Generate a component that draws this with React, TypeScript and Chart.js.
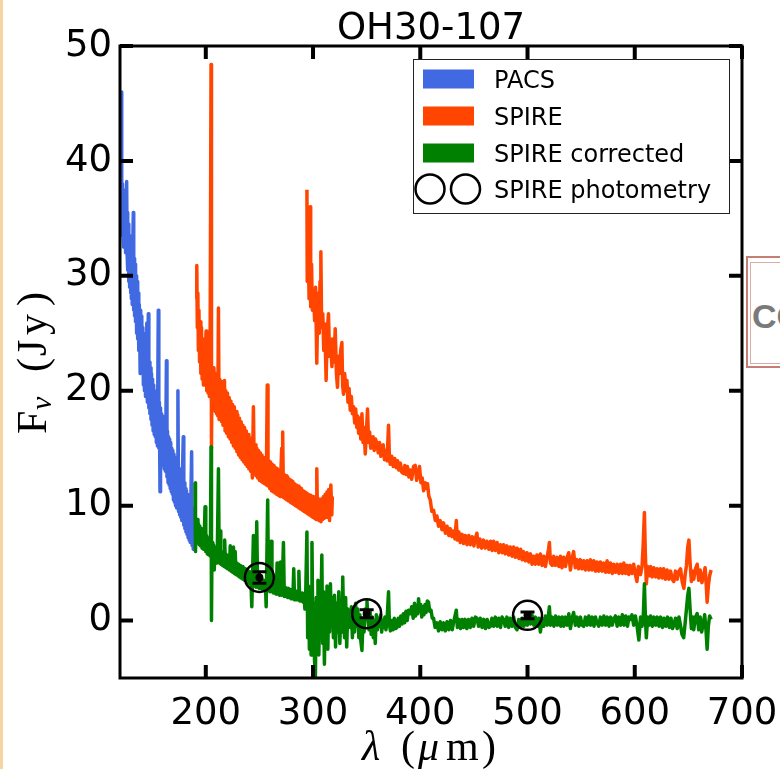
import React, { useEffect, useRef } from "react";
import { Chart, registerables } from "chart.js";

Chart.register(...registerables);

const TITLE = "OH30-107";
const X_MIN = 120;
const X_MAX = 700;
const Y_MIN = -5;
const Y_MAX = 50;
const X_TICKS = [200, 300, 400, 500, 600, 700];
const Y_TICKS = [0, 10, 20, 30, 40, 50];
const LEGEND_LABELS = ["PACS", "SPIRE", "SPIRE corrected", "SPIRE photometry"];
const C_PACS = "#4169E1";
const C_SPIRE = "#FF4500";
const C_CORR = "#008000";

// PACS spectrum [wavelength, flux]
const PACS: [number, number][] = [
  [121.2, 46], [121.6, 38], [122.0, 33.5], [122.4, 38], [122.8, 34], [123.2, 37.5], [123.6, 32.5], [124.0, 36.5],
  [124.4, 33], [124.8, 37], [125.2, 32], [125.6, 35.5], [126.2, 38.2], [126.6, 32], [127.0, 35.5], [127.4, 30.5],
  [127.8, 34.5], [128.2, 29.5], [128.6, 33.5], [129.0, 29], [129.4, 33], [129.8, 28.5], [130.2, 33], [130.6, 28],
  [131.0, 32], [131.4, 27.5], [131.8, 32], [132.4, 35.5], [132.8, 27], [133.2, 31.5], [133.6, 26.5], [134.0, 31],
  [134.5, 26], [135.0, 30], [135.5, 25], [136.0, 29.5], [136.5, 24.5], [137.0, 28.5], [137.5, 23.5], [138.0, 27.5],
  [138.8, 21.5], [139.3, 27], [139.8, 22.5], [140.3, 26.5], [140.8, 21.5], [141.3, 25.5], [141.8, 20.5], [142.3, 25],
  [142.8, 20], [143.3, 24], [143.8, 19.5], [144.3, 23.5], [145.0, 25.9], [145.5, 19], [146.0, 23], [146.4, 26.7],
  [146.9, 18.5], [147.4, 22.5], [147.9, 18], [148.4, 22], [148.9, 17.5], [149.4, 21.5], [149.9, 17], [150.4, 21],
  [150.9, 16.5], [151.4, 20.5], [151.9, 16.2], [152.4, 20], [152.9, 16], [153.4, 19.5], [153.9, 15.5], [154.4, 19.5],
  [154.9, 15.2], [155.7, 27], [156.2, 15], [156.7, 19], [157.3, 11.2], [157.8, 18.5], [158.3, 14.5], [158.8, 18],
  [159.3, 14], [159.8, 17.8], [160.3, 13.5], [160.8, 17.5], [161.3, 13.2], [161.8, 17], [162.3, 13], [162.8, 17],
  [163.3, 22.6], [163.8, 12.5], [164.3, 16.5], [164.8, 12], [165.3, 16], [165.8, 11.8], [166.3, 15.8], [166.8, 11.5],
  [167.3, 15.5], [167.8, 11.2], [168.3, 15], [168.8, 11], [169.3, 14.8], [169.8, 10.5], [170.3, 14.5], [170.8, 10.3],
  [171.3, 14.2], [171.8, 10], [172.3, 14], [172.8, 9.8], [173.3, 13.5], [174.0, 20], [174.6, 9.5], [175.1, 13.2],
  [175.6, 9.2], [176.1, 13], [176.6, 9], [177.1, 12.5], [177.6, 8.7], [178.1, 12.2], [179.0, 16], [179.5, 8.3],
  [180.0, 12], [180.5, 8], [181.0, 11.5], [181.5, 7.7], [182.0, 11.3], [182.5, 7.5], [183.0, 11], [183.5, 7.2],
  [184.0, 10.8], [184.5, 7], [185.0, 10.5], [185.5, 6.8], [186.0, 10.2], [186.8, 14.7], [187.3, 6.5], [187.8, 9.8],
  [188.3, 6.2], [188.8, 8.5],
];

// SPIRE short-wavelength band
const SPIRE_SSW: [number, number][] = [
  [191.0, 28], [191.6, 30.9], [192.1, 25.5], [192.6, 28.5], [193.1, 23.5], [193.6, 27], [194.2, 22.5], [194.8, 26],
  [195.4, 21.5], [196.0, 25.5], [196.6, 21], [197.2, 24.5], [197.8, 20.5], [198.4, 24], [199.0, 20.5], [199.6, 23.5],
  [200.3, 25.2], [200.9, 20], [201.5, 23.5], [202.1, 19.8], [202.7, 23], [203.3, 19.5], [204.0, 22.5], [204.9, 48.4],
  [205.3, 15], [205.8, 22], [206.4, 18.5], [207.0, 22], [207.6, 18.5], [208.2, 21.5], [208.8, 18.2], [209.4, 21.5],
  [210.0, 18], [210.6, 21.3], [211.2, 17.8], [211.8, 27.2], [212.4, 17.5], [213.0, 21], [213.6, 17.5], [214.2, 20.8],
  [214.8, 17.3], [215.4, 20.5], [216.0, 17], [216.8, 20.3], [217.4, 20.9], [218.0, 16.5], [218.6, 20], [219.4, 16.3],
  [220.2, 19.8], [221.0, 16], [221.8, 19.4], [222.6, 15.8], [223.4, 19.1], [224.2, 15.5], [225.0, 18.8], [225.8, 15.2],
  [226.6, 18.6], [227.4, 15], [228.2, 18.2], [229.0, 14.7], [229.8, 17.9], [230.6, 14.4], [231.4, 17.6], [232.2, 14.2],
  [233.0, 17.3], [233.8, 14], [234.6, 17], [235.4, 13.8], [236.2, 16.8], [237.0, 13.6], [237.8, 16.5], [238.6, 13.4],
  [239.4, 16.2], [240.2, 13.2], [241.0, 15.9], [241.8, 13], [242.6, 15.7], [243.4, 12.4], [244.4, 18.6], [245.2, 12.8],
  [246.0, 15.3], [246.8, 12.6], [247.6, 15], [248.4, 12.4], [249.2, 14.8], [250.0, 12.2], [250.8, 14.6], [251.6, 12.1],
  [252.4, 14.4], [253.2, 12], [254.0, 14.2], [254.8, 11.9], [255.6, 14], [256.4, 11.8], [257.3, 20.5], [258.0, 11.7],
  [258.8, 13.9], [259.6, 11.5], [260.4, 13.8], [261.2, 11.3], [262.0, 13.6], [262.8, 11.2], [263.6, 13.5], [264.4, 11.1],
  [265.2, 13.3], [266.0, 11], [266.8, 13.2], [267.6, 10.9], [268.4, 13], [269.2, 10.8], [270.0, 12.9], [270.8, 15],
  [271.2, 11], [271.7, 16.4], [272.4, 10.7], [273.2, 12.7], [274.0, 10.6], [274.8, 12.6], [275.6, 10.5], [276.4, 12.5],
  [277.2, 10.4], [278.0, 12.3], [278.8, 10.3], [279.6, 12.2], [280.4, 10.2], [281.2, 12.1], [282.0, 10.1], [282.8, 11.9],
  [283.6, 10], [284.4, 11.8], [285.2, 9.9], [286.0, 11.7], [286.8, 9.8], [287.6, 11.6], [288.4, 9.7], [289.2, 11.5],
  [290.0, 9.6], [290.8, 11.3], [291.6, 9.5], [292.4, 11.2], [293.2, 9.4], [294.0, 11.1], [294.8, 9.3], [295.6, 11],
  [296.4, 9.2], [297.2, 10.9], [298.0, 9.1], [298.8, 10.8], [299.6, 9], [300.4, 10.8], [301.2, 8.9], [302.0, 10.7],
  [302.8, 8.8], [303.5, 13.2], [304.2, 8.8], [305.0, 10.6], [305.8, 8.7], [306.6, 10.5], [307.4, 8.6], [308.2, 10.6],
  [309.0, 8.8], [309.8, 10.8], [310.6, 8.9], [311.4, 11], [312.2, 9], [313.0, 11.2], [313.8, 9.1], [314.6, 11.4],
  [315.4, 8.7], [316.6, 11.8], [317.5, 9.2], [318.0, 10.8],
];

// SPIRE long-wavelength band
const SPIRE_SLW: [number, number][] = [
  [294.3, 37.5], [294.6, 29.5], [295.5, 33], [296.3, 28], [297.3, 36], [297.8, 27.3], [298.6, 31], [299.4, 27],
  [300.4, 28.7], [301.5, 26.1], [302.4, 29], [303.5, 22.4], [304.3, 27], [305.0, 28.5], [305.8, 25], [306.5, 29.5],
  [307.3, 32.1], [308.0, 25.5], [309.1, 26.7], [310.0, 23.5], [311.0, 25.8], [312.2, 20.9], [313.2, 25], [314.4, 26.7],
  [315.4, 23], [316.4, 24.5], [317.6, 22.1], [318.6, 24.5], [319.6, 22.5], [320.7, 25.4], [321.8, 21.5], [322.8, 20.3],
  [323.8, 23], [324.8, 21.5], [325.8, 23.5], [326.9, 24.2], [327.6, 20.5], [328.4, 19.7], [329.5, 21.5], [330.5, 20],
  [331.6, 20.9], [332.6, 19], [333.6, 20.2], [334.7, 18.3], [335.7, 19.5], [336.7, 18], [337.8, 18.6], [338.8, 17.2],
  [339.8, 18.4], [340.8, 16.8], [341.6, 17.8], [342.5, 16.3], [343.5, 17.6], [344.5, 15.8], [345.6, 18], [346.6, 15.5],
  [347.6, 16.8], [348.7, 14.5], [349.8, 16.5], [350.8, 18.4], [351.8, 15.5], [352.8, 16.4], [353.8, 15], [354.9, 15.1],
  [356.0, 16], [357.0, 14.8], [358.2, 15.8], [359.6, 15.4], [360.8, 14.6], [362.0, 15.5], [363.2, 14.3], [364.2, 14.5],
  [365.4, 15.3], [366.6, 14], [367.8, 14.8], [369.0, 13.9], [370.4, 17], [371.2, 14.2], [372.0, 13.6], [373.4, 14.3],
  [374.8, 13.4], [376.2, 14.1], [377.6, 13.3], [378.8, 13.9], [380.0, 13.1], [381.4, 13.7], [382.8, 12.9], [384.4, 12.8],
  [385.6, 13.5], [386.8, 12.7], [388.0, 13.4], [389.4, 12.5], [390.7, 13.1], [392.0, 12.3], [393.7, 13.4], [395.3, 13.5],
  [396.6, 12.2], [398.0, 12.8], [399.3, 13.4], [400.6, 12], [401.8, 12.4], [403.1, 11.3], [404.6, 12], [405.8, 11.5],
  [406.8, 11.9], [408.0, 10.8], [409.3, 10.5], [410.8, 9.5], [412.4, 9.6], [414.0, 8.7], [415.5, 9.1], [417.0, 8.2],
  [418.6, 8.7], [420.2, 7.9], [421.7, 8.5], [423.4, 7.6], [425.0, 8.2], [426.6, 7.4], [428.0, 8.0], [429.6, 7.3],
  [431.0, 7.8], [432.3, 7.1], [433.6, 8.7], [434.6, 7.0], [436.0, 7.7], [437.3, 6.8], [439.0, 7.5], [440.3, 6.7],
  [442.0, 7.4], [443.6, 6.6], [445.2, 7.4], [446.7, 6.6], [448.4, 7.3], [450.0, 6.5], [451.5, 7.2], [452.8, 7.6],
  [454.0, 6.4], [455.6, 7.1], [457.2, 6.3], [459.0, 7.0], [460.6, 6.3], [462.2, 6.9], [464.0, 6.2], [465.6, 6.9],
  [467.0, 6.1], [468.4, 6.9], [470.0, 6.1], [471.6, 6.8], [473.2, 5.9], [474.8, 6.6], [476.3, 5.9], [477.7, 6.6],
  [479.2, 5.8], [480.8, 6.5], [482.4, 5.7], [484.0, 6.4], [485.6, 5.6], [487.1, 6.4], [488.7, 5.5], [490.3, 6.3],
  [492.0, 5.4], [493.6, 6.2], [495.0, 5.3], [496.3, 6.0], [498.0, 5.2], [499.6, 5.9], [501.2, 5.1], [502.8, 5.8],
  [504.2, 4.9], [505.7, 5.6], [507.2, 4.9], [508.8, 5.7], [510.4, 4.9], [512.0, 5.8], [513.6, 4.8], [515.2, 5.6],
  [516.7, 4.7], [518.4, 5.6], [519.6, 6.2], [520.4, 6.8], [521.4, 5.0], [523.0, 4.8], [524.4, 5.6], [526.0, 4.8],
  [527.6, 5.5], [529.2, 4.7], [530.7, 5.6], [532.2, 4.6], [533.8, 5.5], [535.4, 4.7], [537.0, 5.5], [538.4, 5.9],
  [540.0, 4.4], [541.5, 5.4], [543.0, 6.0], [544.5, 4.6], [546.0, 5.3], [547.6, 4.5], [549.2, 5.3], [550.8, 4.5],
  [552.4, 5.2], [554.0, 4.4], [555.6, 5.2], [557.2, 4.4], [558.6, 5.3], [560.2, 4.4], [561.8, 5.2], [563.4, 4.3],
  [564.8, 5.1], [566.4, 4.3], [568.0, 5.1], [569.6, 4.3], [571.2, 5.0], [572.8, 4.2], [574.2, 5.2], [575.8, 4.2],
  [577.4, 5.0], [579.0, 4.1], [580.3, 4.9], [582.0, 4.2], [583.6, 4.9], [585.2, 4.1], [586.8, 4.9], [588.4, 4.1],
  [589.8, 5.0], [591.4, 4.1], [593.0, 4.8], [594.4, 4.0], [595.8, 4.8], [597.4, 4.1], [599.0, 4.9], [600.6, 4.0],
  [602.0, 3.4], [603.4, 4.7], [605.3, 4.0], [606.8, 4.7], [607.8, 6.5], [609.0, 9.4], [609.8, 6.0], [610.8, 3.2],
  [612.0, 4.7], [613.4, 3.9], [614.7, 4.7], [616.2, 3.8], [617.8, 4.6], [619.4, 3.8], [620.9, 4.5], [622.4, 3.7],
  [624.0, 4.5], [625.6, 3.7], [627.0, 4.5], [628.6, 3.6], [630.2, 4.4], [631.8, 3.6], [633.4, 4.3], [635.0, 3.6],
  [636.4, 3.4], [638.0, 4.3], [639.6, 3.6], [641.2, 4.3], [642.7, 4.5], [644.2, 3.4], [645.8, 2.8], [647.0, 4.0],
  [648.2, 4.8], [649.4, 6.4], [650.5, 7.0], [651.6, 5.0], [652.8, 3.4], [654.0, 4.3], [655.0, 3.6], [656.6, 4.5],
  [658.2, 4.9], [659.6, 3.5], [661.0, 4.4], [662.6, 3.3], [664.4, 4.0], [665.6, 4.6], [666.6, 3.2], [667.5, 1.6],
  [668.6, 3.0], [669.8, 3.9], [671.2, 4.4],
];

// SPIRE corrected spectrum
const SPIRE_CORR: [number, number][] = [
  [190.0, 12.0], [190.4, 6.0], [190.9, 8.5], [191.5, 7.2], [192.1, 8.8], [192.7, 6.8], [193.3, 8.4], [193.9, 6.6],
  [194.5, 8.2], [195.1, 6.5], [195.8, 8.0], [196.5, 6.3], [197.2, 7.8], [197.9, 6.2], [198.6, 7.6], [199.3, 9.9],
  [200.0, 6.0], [200.7, 7.4], [201.4, 5.8], [202.1, 7.2], [202.8, 5.7], [203.5, 7.0], [204.2, 5.6], [204.9, 15.1],
  [205.3, 0.0], [205.8, 6.8], [206.5, 5.4], [207.2, 6.6], [207.9, 4.4], [208.6, 6.4], [209.3, 5.2], [210.0, 6.3],
  [210.6, 5.0], [211.8, 13.2], [212.5, 5.0], [213.3, 7.8], [214.0, 4.9], [214.8, 6.0], [215.6, 4.8], [216.4, 5.9],
  [217.2, 4.7], [217.6, 7.0], [218.0, 5.8], [218.8, 4.6], [219.6, 5.7], [220.4, 4.5], [221.2, 5.6], [222.0, 4.4],
  [222.8, 6.5], [223.6, 4.3], [224.4, 5.4], [225.2, 4.2], [225.8, 6.4], [226.6, 4.1], [227.4, 6.0], [228.2, 4.0],
  [229.0, 5.0], [229.8, 3.9], [230.6, 4.9], [231.4, 3.8], [232.2, 4.8], [233.0, 3.7], [233.8, 4.7], [234.6, 3.6],
  [235.4, 4.6], [236.2, 3.5], [237.0, 4.5], [237.8, 3.4], [238.6, 4.4], [239.4, 3.3], [240.2, 4.3], [241.0, 3.2],
  [241.8, 4.2], [242.9, 1.2], [243.6, 4.0], [244.4, 7.4], [245.2, 3.0], [246.0, 4.0], [246.8, 2.9], [247.5, 8.6],
  [248.3, 2.9], [249.1, 3.8], [249.9, 2.8], [250.7, 3.7], [251.5, 2.8], [252.3, 3.6], [253.1, 2.7], [253.9, 3.5],
  [254.7, 2.7], [255.5, 3.4], [256.3, 1.2], [257.7, 10.5], [258.5, 2.6], [259.3, 3.4], [260.1, 2.5], [260.9, 6.9],
  [261.7, 2.5], [262.5, 3.2], [263.3, 2.4], [264.1, 3.2], [264.9, 2.4], [265.7, 2.3], [266.5, 5.0], [267.3, 2.3],
  [268.1, 3.0], [268.9, 2.2], [269.7, 5.1], [270.5, 2.2], [271.3, 2.9], [272.4, 6.8], [273.2, 2.1], [274.0, 2.9],
  [274.8, 2.1], [275.6, 2.8], [276.4, 2.0], [277.2, 2.8], [278.0, 2.0], [278.8, 2.7], [279.6, 1.9], [280.4, 2.7],
  [281.2, 1.9], [282.0, 4.5], [282.8, 1.8], [283.6, 2.6], [284.4, 1.8], [285.2, 2.5], [286.0, 1.8], [286.8, 4.3],
  [287.6, 1.7], [288.4, 2.4], [289.2, 1.7], [290.0, 2.4], [290.8, 1.6], [291.6, 2.3], [292.4, 1.0], [293.2, 2.5],
  [294.3, 7.7], [295.0, -1.5], [295.8, 3.0], [296.6, -2.5], [297.4, 2.0], [298.2, -3.0], [299.0, 6.8], [299.8, -1.0],
  [300.6, 1.5], [301.4, -3.5], [302.2, -4.9], [303.0, 2.0], [303.8, -2.0], [304.6, 3.5], [305.4, -3.0], [306.2, 1.0],
  [307.0, -1.0], [308.2, 5.7], [309.0, -2.0], [309.8, 2.5], [310.6, -3.8], [311.4, 1.0], [312.2, -1.5], [313.0, 3.0],
  [313.8, -2.5], [314.6, 2.0], [315.4, -1.0], [316.2, 3.2], [317.0, 0.0], [318.0, 2.0], [319.0, -1.5], [320.0, 2.2],
  [321.0, -2.3], [322.0, 1.5], [323.0, -1.0], [324.0, 2.5], [325.0, -2.0], [326.0, 1.0], [327.0, -1.0], [327.7, 3.8],
  [328.4, 0.5], [329.4, -1.5], [330.4, 2.0], [331.4, -2.3], [332.4, 1.0], [333.4, 0.0], [334.7, -0.6], [335.7, 1.2],
  [336.7, -1.5], [337.7, 0.8], [338.7, -1.0], [339.7, 1.5], [340.7, -0.5], [341.7, 1.0], [342.7, -1.5], [343.7, 0.5],
  [344.6, -1.8], [345.6, -2.6], [346.6, 0.0], [347.6, -1.0], [348.6, 1.0], [349.5, 0.5], [350.3, 1.7], [351.2, 0.2],
  [352.2, -0.8], [353.2, 0.8], [354.2, -1.2], [355.2, 0.3], [356.2, -1.5], [357.2, 0.0], [358.0, -2.0], [359.0, 0.5],
  [360.0, -0.8], [361.0, 0.2], [362.0, -0.5], [363.0, 0.5], [364.0, -1.0], [365.0, 0.0], [366.0, -0.6], [367.0, 0.3],
  [368.0, -0.8], [369.0, 0.0], [370.4, 2.5], [371.2, -0.3], [372.2, -0.9], [373.4, 0.0], [374.6, -0.8], [375.8, 0.2],
  [377.0, -0.7], [378.2, -0.6], [379.4, 0.2], [380.6, -0.5], [381.8, 0.4], [383.0, -0.3], [384.2, 0.6], [385.4, -0.2],
  [386.6, 0.8], [387.8, 0.0], [389.0, 0.9], [390.7, 0.6], [392.0, 1.2], [393.4, 0.2], [394.6, 1.5], [395.6, 0.4],
  [396.6, 1.3], [397.6, 0.6], [398.4, 1.9], [399.4, 0.8], [400.4, 1.4], [401.4, 0.3], [402.4, 1.2], [403.4, 0.5],
  [404.4, 1.4], [405.4, 0.7], [406.6, 1.7], [407.7, 1.6], [408.8, 0.8], [410.0, 0.9], [411.2, 0.2], [412.4, 0.2],
  [413.8, -0.6], [415.5, -0.2], [417.0, -0.9], [418.6, -0.1], [420.2, -0.8], [421.8, -0.2], [423.3, -0.9], [425.0, -0.1],
  [426.6, -0.8], [428.2, 0.0], [429.8, -0.8], [431.4, 0.0], [432.6, 0.5], [433.6, 0.9], [434.6, -0.6], [436.0, 0.1],
  [437.6, -0.7], [439.0, 0.1], [440.3, -0.6], [441.8, 0.1], [443.4, -0.7], [445.0, 0.1], [446.6, -0.6], [448.2, 0.2],
  [449.8, -0.5], [451.4, 0.3], [452.8, 0.2], [454.4, -0.5], [456.0, 0.2], [457.6, -0.6], [459.2, 0.1], [460.8, -0.7],
  [462.4, 0.1], [464.0, -0.6], [465.3, -0.5], [466.8, 0.2], [468.4, -0.5], [470.0, 0.3], [471.6, -0.5], [473.2, 0.2],
  [474.8, -0.6], [476.3, 0.3], [477.7, 0.1], [479.2, -0.5], [480.8, 0.3], [482.4, -0.6], [484.0, 0.2], [485.6, -0.5],
  [487.1, 0.3], [488.7, -0.6], [490.2, -0.8], [491.8, 0.1], [493.4, -0.6], [495.0, 0.2], [496.6, -0.5], [498.2, 0.3],
  [499.8, -0.4], [501.2, 0.4], [502.7, -0.3], [504.2, 0.5], [505.8, -0.4], [507.4, 0.3], [509.0, -0.5], [510.6, 0.2],
  [512.0, -1.0], [513.6, 0.2], [515.2, -0.5], [516.8, 0.4], [518.4, -0.4], [519.6, 0.5], [520.4, 1.2], [521.4, -0.4],
  [523.0, 0.3], [524.6, -0.5], [526.2, 0.4], [527.8, -0.4], [529.4, 0.3], [531.0, -0.5], [532.4, 0.3], [533.8, -0.5],
  [535.4, 0.3], [537.0, -0.4], [538.5, 0.6], [540.0, -0.7], [541.6, 0.2], [543.0, 0.7], [544.6, -0.4], [546.2, 0.3],
  [547.8, -0.5], [549.4, 0.3], [550.8, -0.4], [552.4, -0.5], [554.0, 0.3], [555.6, -0.4], [557.2, 0.4], [558.8, -0.4],
  [560.4, 0.3], [562.0, -0.5], [563.4, 0.3], [564.8, -0.2], [566.4, -0.5], [568.0, 0.3], [569.6, -0.4], [571.2, 0.4],
  [572.8, -0.4], [574.4, 0.3], [576.0, -0.5], [577.6, 0.3], [579.0, -0.4], [580.3, 0.1], [582.0, 0.4], [583.6, -0.5],
  [585.2, 0.3], [586.8, -0.4], [588.4, 0.5], [590.0, -0.4], [591.6, 0.4], [593.2, -0.5], [594.6, 0.3], [595.8, 0.1],
  [597.4, 0.5], [599.0, -0.4], [600.6, 0.4], [602.2, -0.5], [603.8, -1.7], [605.4, 0.3], [606.8, -0.5], [608.0, 0.5],
  [609.0, 3.2], [610.0, 0.0], [610.8, -1.5], [612.0, 0.3], [613.4, -0.4], [614.8, 0.4], [616.4, -0.5], [618.0, 0.3],
  [619.6, -0.4], [621.0, 0.3], [622.6, -0.5], [624.2, 0.3], [625.8, -0.6], [627.4, 0.2], [629.0, -0.5], [630.6, 0.3],
  [632.2, -0.6], [633.8, 0.2], [635.2, -0.7], [636.4, -0.4], [638.0, 0.2], [639.6, -0.7], [641.2, 0.3], [642.6, -0.4],
  [644.0, -1.2], [645.6, -1.5], [647.0, -0.2], [648.2, 1.0], [649.4, 2.2], [650.5, 2.8], [651.6, 1.0], [652.8, -0.7],
  [654.0, 0.3], [655.0, -0.8], [656.6, 0.3], [658.2, 0.6], [659.6, -0.8], [661.0, 0.3], [662.4, -1.0], [663.8, -0.3],
  [665.2, 0.5], [666.4, -0.8], [667.5, -2.5], [668.6, -0.5], [669.8, 0.4], [671.2, 0.1],
];

// SPIRE photometry
const PHOT_X = [250, 350, 500];
const PHOT_Y = [3.75, 0.6, 0.45];
const PHOT_ERR = [0.5, 0.35, 0.3];

const toXY = (a: [number, number][]) => a.map(([x, y]) => ({ x, y }));

const TICK_FONT = '37px "DejaVu Sans"';
const SERIF = '"Liberation Serif"';

const decorPlugin = {
  id: "decor",
  afterDatasetsDraw(chart: any) {
    const { ctx, chartArea: ca, scales } = chart;
    const xs = scales.x;
    const ys = scales.y;
    ctx.save();
    // photometry error bars
    ctx.strokeStyle = "#000";
    ctx.lineWidth = 3;
    PHOT_X.forEach((x, i) => {
      const px = xs.getPixelForValue(x);
      const pTop = ys.getPixelForValue(PHOT_Y[i] + PHOT_ERR[i]);
      const pBot = ys.getPixelForValue(PHOT_Y[i] - PHOT_ERR[i]);
      ctx.beginPath();
      ctx.moveTo(px, pTop);
      ctx.lineTo(px, pBot);
      ctx.moveTo(px - 7, pTop);
      ctx.lineTo(px + 7, pTop);
      ctx.moveTo(px - 7, pBot);
      ctx.lineTo(px + 7, pBot);
      ctx.stroke();
    });
    // frame
    ctx.lineWidth = 3;
    ctx.strokeRect(ca.left, ca.top, ca.right - ca.left, ca.bottom - ca.top);
    // inward ticks
    ctx.lineWidth = 4;
    const TL = 13;
    ctx.beginPath();
    X_TICKS.forEach((v) => {
      const px = xs.getPixelForValue(v);
      ctx.moveTo(px, ca.bottom);
      ctx.lineTo(px, ca.bottom - TL);
      ctx.moveTo(px, ca.top);
      ctx.lineTo(px, ca.top + TL);
    });
    Y_TICKS.forEach((v) => {
      const py = ys.getPixelForValue(v);
      ctx.moveTo(ca.left, py);
      ctx.lineTo(ca.left + TL, py);
      ctx.moveTo(ca.right, py);
      ctx.lineTo(ca.right - TL, py);
    });
    ctx.stroke();

    // legend
    const lw = 316;
    const lh = 154;
    const lx = ca.right - 13 - lw;
    const ly = ca.top + 13;
    ctx.fillStyle = "#fff";
    ctx.fillRect(lx, ly, lw, lh);
    ctx.lineWidth = 1;
    ctx.strokeStyle = "#222";
    ctx.strokeRect(lx + 0.5, ly + 0.5, lw, lh);
    const rowY = [ly + 20, ly + 57, ly + 94, ly + 130];
    const colors = [C_PACS, C_SPIRE, C_CORR];
    colors.forEach((c, i) => {
      ctx.fillStyle = c;
      ctx.fillRect(lx + 10, rowY[i] - 9.5, 51, 19);
    });
    ctx.strokeStyle = "#000";
    ctx.lineWidth = 2.5;
    [lx + 17, lx + 52.5].forEach((cx) => {
      ctx.beginPath();
      ctx.arc(cx, rowY[3], 14.5, 0, Math.PI * 2);
      ctx.stroke();
    });
    ctx.fillStyle = "#000";
    ctx.font = '24px "DejaVu Sans"';
    ctx.textBaseline = "alphabetic";
    ctx.textAlign = "left";
    LEGEND_LABELS.forEach((t, i) => {
      ctx.fillText(t, lx + 81, rowY[i] + 8.7);
    });
    ctx.restore();
  },
  afterDraw(chart: any) {
    const { ctx, chartArea: ca } = chart;
    ctx.save();
    ctx.fillStyle = "#000";
    // title
    ctx.font = TICK_FONT;
    ctx.textAlign = "center";
    ctx.textBaseline = "alphabetic";
    ctx.fillText(TITLE, (ca.left + ca.right) / 2, 39);

    // x axis label: λ (μm)
    ctx.textAlign = "left";
    const bx = 760;
    ctx.font = `italic 42px ${SERIF}`;
    ctx.fillText("λ", 362, bx);
    ctx.font = `42px ${SERIF}`;
    ctx.fillText("(", 401, bx);
    ctx.font = `italic 42px ${SERIF}`;
    ctx.fillText("μ", 418, bx);
    ctx.font = `42px ${SERIF}`;
    ctx.fillText("m", 446, bx);
    ctx.fillText(")", 482, bx);

    // y axis label: F_ν (Jy)
    ctx.translate(46, 434);
    ctx.rotate(-Math.PI / 2);
    ctx.font = `42px ${SERIF}`;
    ctx.fillText("F", 0, 0);
    ctx.font = `italic 30px ${SERIF}`;
    ctx.fillText("ν", 24, 5);
    ctx.font = `42px ${SERIF}`;
    ctx.fillText("(", 62, 0);
    ctx.fillText("J", 78, 0);
    ctx.fillText("y", 99, 0);
    ctx.fillText(")", 128, 0);
    ctx.restore();
  },
};

export default function App() {
  const ref = useRef<HTMLCanvasElement | null>(null);
  useEffect(() => {
    if (!ref.current) return;
    const lineDs = (label: string, data: [number, number][], color: string, order: number) => ({
      label,
      data: toXY(data),
      showLine: true,
      borderColor: color,
      backgroundColor: color,
      borderWidth: 3.5,
      pointRadius: 0,
      borderJoinStyle: "round" as const,
      tension: 0,
      order,
    });
    const chart = new Chart(ref.current, {
      type: "scatter",
      data: {
        datasets: [
          lineDs("PACS", PACS, C_PACS, 5),
          lineDs("SPIRE", SPIRE_SSW, C_SPIRE, 4),
          lineDs("SPIRE ", SPIRE_SLW, C_SPIRE, 3),
          lineDs("SPIRE corrected", SPIRE_CORR, C_CORR, 2),
          {
            label: "SPIRE photometry",
            data: PHOT_X.map((x, i) => ({ x, y: PHOT_Y[i] })),
            pointRadius: 14.5,
            pointBorderWidth: 2.5,
            borderColor: "#000",
            backgroundColor: "rgba(0,0,0,0)",
            showLine: false,
            order: 1,
          },
          {
            label: "dots",
            data: PHOT_X.map((x, i) => ({ x, y: PHOT_Y[i] })),
            pointRadius: 4,
            pointBorderWidth: 0,
            borderColor: "#000",
            backgroundColor: "#000",
            showLine: false,
            order: 0,
          },
        ],
      },
      options: {
        animation: false,
        responsive: false,
        devicePixelRatio: 1,
        events: [],
        layout: { padding: { left: 0, top: 46, right: 38, bottom: 0 } },
        plugins: {
          legend: { display: false },
          tooltip: { enabled: false },
          title: { display: false },
        },
        scales: {
          x: {
            type: "linear",
            min: X_MIN,
            max: X_MAX,
            grid: { display: false, drawTicks: false },
            border: { display: false },
            afterBuildTicks: (s: any) => {
              s.ticks = X_TICKS.map((v) => ({ value: v }));
            },
            afterFit: (s: any) => {
              s.height = 91;
              s.paddingLeft = 0;
              s.paddingRight = 0;
            },
            ticks: {
              autoSkip: false,
              maxRotation: 0,
              padding: 14,
              color: "#000",
              font: { family: "DejaVu Sans", size: 37 },
              callback: (v: any) => String(v),
            },
          },
          y: {
            type: "linear",
            min: Y_MIN,
            max: Y_MAX,
            grid: { display: false, drawTicks: false },
            border: { display: false },
            afterBuildTicks: (s: any) => {
              s.ticks = Y_TICKS.map((v) => ({ value: v }));
            },
            afterFit: (s: any) => {
              s.width = 120;
              s.paddingTop = 0;
              s.paddingBottom = 0;
            },
            ticks: {
              autoSkip: false,
              padding: 8,
              color: "#000",
              font: { family: "DejaVu Sans", size: 37 },
              callback: (v: any) => String(v),
            },
          },
        },
      },
      plugins: [decorPlugin],
    });
    return () => chart.destroy();
  }, []);

  return (
    <div style={{ position: "absolute", left: 0, top: 0, width: 780, height: 769, background: "#fff", overflow: "hidden" }}>
      <div style={{ position: "absolute", left: 0, top: 0, width: 3, height: 769, background: "#f5d6a2" }} />
      <div
        style={{
          position: "absolute",
          left: 746,
          top: 256,
          width: 60,
          height: 112,
          border: "2px solid rgba(175,70,60,0.7)",
          boxSizing: "border-box",
        }}
      />
      <div
        style={{
          position: "absolute",
          left: 750,
          top: 262,
          width: 60,
          height: 102,
          border: "1px solid rgba(175,70,60,0.45)",
          boxSizing: "border-box",
        }}
      />
      <div
        style={{
          position: "absolute",
          left: 752,
          top: 296,
          font: 'bold 34px "Liberation Sans"',
          color: "#7a7a7a",
          lineHeight: "40px",
          whiteSpace: "nowrap",
        }}
      >
        CO
      </div>
      <canvas ref={ref} width={780} height={769} style={{ position: "absolute", left: 0, top: 0 }} />
    </div>
  );
}
